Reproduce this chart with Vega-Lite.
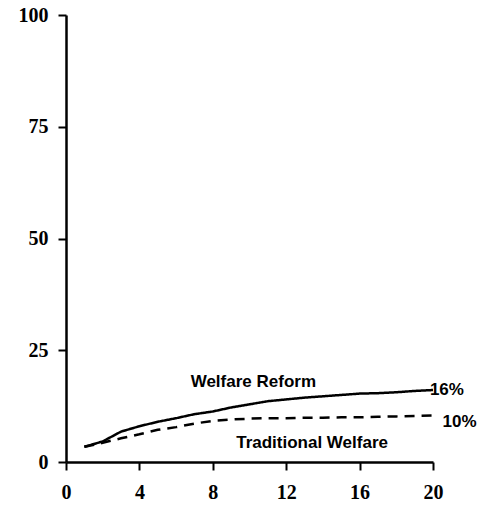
{
  "$schema": "https://vega.github.io/schema/vega-lite/v6.json",
  "autosize": {"type": "none"},
  "padding": {"left": 66, "top": 15, "right": 62, "bottom": 44},
  "width": 367,
  "height": 447,
  "background": "white",
  "config": {
    "view": {"stroke": null},
    "axis": {
      "grid": false,
      "domainColor": "black",
      "domainWidth": 2.5,
      "tickColor": "black",
      "tickWidth": 2,
      "tickSize": 8,
      "labelFont": "Liberation Serif",
      "labelFontWeight": "bold",
      "labelFontSize": 20,
      "labelColor": "black",
      "title": null
    }
  },
  "datasets": {
    "series": [
      {"year": 1, "value": 3.4, "program": "Welfare Reform"},
      {"year": 2, "value": 4.6, "program": "Welfare Reform"},
      {"year": 3, "value": 6.8, "program": "Welfare Reform"},
      {"year": 4, "value": 8.0, "program": "Welfare Reform"},
      {"year": 5, "value": 9.0, "program": "Welfare Reform"},
      {"year": 6, "value": 9.8, "program": "Welfare Reform"},
      {"year": 7, "value": 10.7, "program": "Welfare Reform"},
      {"year": 8, "value": 11.3, "program": "Welfare Reform"},
      {"year": 9, "value": 12.2, "program": "Welfare Reform"},
      {"year": 10, "value": 12.9, "program": "Welfare Reform"},
      {"year": 11, "value": 13.6, "program": "Welfare Reform"},
      {"year": 12, "value": 14.0, "program": "Welfare Reform"},
      {"year": 13, "value": 14.4, "program": "Welfare Reform"},
      {"year": 14, "value": 14.7, "program": "Welfare Reform"},
      {"year": 15, "value": 15.0, "program": "Welfare Reform"},
      {"year": 16, "value": 15.3, "program": "Welfare Reform"},
      {"year": 17, "value": 15.4, "program": "Welfare Reform"},
      {"year": 18, "value": 15.6, "program": "Welfare Reform"},
      {"year": 19, "value": 15.9, "program": "Welfare Reform"},
      {"year": 20, "value": 16.1, "program": "Welfare Reform"},
      {"year": 1, "value": 3.4, "program": "Traditional Welfare"},
      {"year": 2, "value": 4.3, "program": "Traditional Welfare"},
      {"year": 3, "value": 5.3, "program": "Traditional Welfare"},
      {"year": 4, "value": 6.2, "program": "Traditional Welfare"},
      {"year": 5, "value": 7.2, "program": "Traditional Welfare"},
      {"year": 6, "value": 7.8, "program": "Traditional Welfare"},
      {"year": 7, "value": 8.6, "program": "Traditional Welfare"},
      {"year": 8, "value": 9.2, "program": "Traditional Welfare"},
      {"year": 9, "value": 9.5, "program": "Traditional Welfare"},
      {"year": 10, "value": 9.7, "program": "Traditional Welfare"},
      {"year": 11, "value": 9.8, "program": "Traditional Welfare"},
      {"year": 12, "value": 9.8, "program": "Traditional Welfare"},
      {"year": 13, "value": 9.9, "program": "Traditional Welfare"},
      {"year": 14, "value": 9.9, "program": "Traditional Welfare"},
      {"year": 15, "value": 10.0, "program": "Traditional Welfare"},
      {"year": 16, "value": 10.0, "program": "Traditional Welfare"},
      {"year": 17, "value": 10.1, "program": "Traditional Welfare"},
      {"year": 18, "value": 10.2, "program": "Traditional Welfare"},
      {"year": 19, "value": 10.3, "program": "Traditional Welfare"},
      {"year": 20, "value": 10.4, "program": "Traditional Welfare"}
    ],
    "labels": [
      {"year": 10.21, "value": 17.8, "text": "Welfare Reform", "anchor": "center"},
      {"year": 13.41, "value": 4.36, "text": "Traditional Welfare", "anchor": "center"},
      {"year": 19.83, "value": 16.0, "text": "16%", "anchor": "left"},
      {"year": 20.52, "value": 8.84, "text": "10%", "anchor": "left"}
    ]
  },
  "layer": [
    {
      "data": {"name": "series"},
      "mark": {"type": "line", "color": "black", "strokeWidth": 2.5},
      "encoding": {
        "x": {
          "field": "year", "type": "quantitative",
          "scale": {"domain": [0, 20], "nice": false, "zero": false},
          "axis": {"values": [0, 2, 4, 6, 8, 10, 12, 14, 16, 18, 20], "labelExpr": "datum.value % 4 === 0 ? datum.label : ''", "labelPadding": 12, "labelFlush": false}
        },
        "y": {
          "field": "value", "type": "quantitative",
          "scale": {"domain": [0, 100], "nice": false},
          "axis": {"values": [0, 25, 50, 75, 100], "labelPadding": 10, "labelFlush": false}
        },
        "strokeDash": {
          "field": "program", "type": "nominal",
          "scale": {"domain": ["Welfare Reform", "Traditional Welfare"], "range": [[1, 0], [10, 7]]},
          "legend": null
        }
      }
    },
    {
      "data": {"name": "labels"},
      "transform": [{"filter": "datum.anchor === 'center'"}],
      "mark": {"type": "text", "font": "Liberation Sans", "fontWeight": "bold", "fontSize": 17, "align": "center", "baseline": "middle", "color": "black"},
      "encoding": {
        "x": {"field": "year", "type": "quantitative"},
        "y": {"field": "value", "type": "quantitative"},
        "text": {"field": "text"}
      }
    },
    {
      "data": {"name": "labels"},
      "transform": [{"filter": "datum.anchor === 'left'"}],
      "mark": {"type": "text", "font": "Liberation Sans", "fontWeight": "bold", "fontSize": 17, "align": "left", "baseline": "middle", "color": "black"},
      "encoding": {
        "x": {"field": "year", "type": "quantitative"},
        "y": {"field": "value", "type": "quantitative"},
        "text": {"field": "text"}
      }
    }
  ]
}
